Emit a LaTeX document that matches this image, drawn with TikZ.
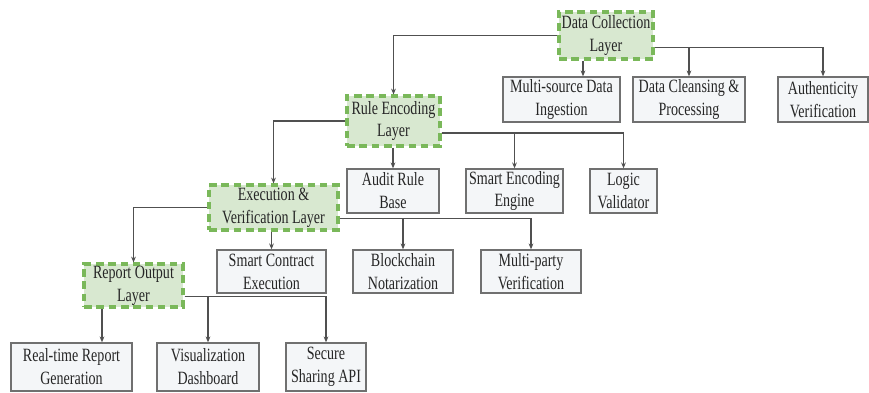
\documentclass[tikz,border=0pt]{standalone}
\usepackage{fontspec}
\setmainfont[FakeStretch=0.75]{Liberation Serif}
\usetikzlibrary{arrows.meta}
\definecolor{layerfill}{HTML}{D8E8D0}
\definecolor{layerline}{HTML}{7AB85A}
\definecolor{itemfill}{HTML}{F4F6F8}
\definecolor{itemline}{HTML}{707070}
\definecolor{connline}{HTML}{505050}
\definecolor{textcol}{HTML}{262626}

\begin{document}
\begin{tikzpicture}[x=0.03cm, y=-0.03cm,
    layer/.style={draw=layerline, fill=layerfill, line width=2.6pt,
        dash pattern=on 6.5pt off 4pt, inner sep=0pt, align=center,
        text=textcol, font=\fontsize{16}{19.5}\selectfont},
    item/.style={draw=itemline, fill=itemfill, line width=1.1pt,
        inner sep=0pt, align=center, text=textcol,
        font=\fontsize{16}{19.5}\selectfont},
    conn/.style={draw=connline, line width=1pt,
        -{Stealth[length=5pt, width=4pt]}}]
    \useasboundingbox (0,0) rectangle (869,392);
    \clip (0,0) rectangle (869,392);

    % Data collection layer
    \node[layer, minimum width=2.82cm, minimum height=1.41cm]
        (dc) at (606, 35.5) {Data Collection\\Layer};
    \node[item, minimum width=3.51cm, minimum height=1.35cm]
        (ms) at (561.5, 99.5) {Multi-source Data\\Ingestion};
    \node[item, minimum width=3.36cm, minimum height=1.35cm]
        (dcl) at (689, 99.5) {Data Cleansing \&\\Processing};
    \node[item, minimum width=2.70cm, minimum height=1.35cm]
        (av) at (823, 99.5) {Authenticity\\Verification};

    % Rule encoding layer
    \node[layer, minimum width=2.79cm, minimum height=1.50cm]
        (re) at (393.5, 121) {Rule Encoding\\Layer};
    \node[item, minimum width=2.76cm, minimum height=1.32cm]
        (ar) at (393, 191) {Audit Rule\\Base};
    \node[item, minimum width=2.91cm, minimum height=1.32cm]
        (se) at (514.5, 191) {Smart Encoding\\Engine};
    \node[item, minimum width=2.01cm, minimum height=1.32cm]
        (lv) at (623.5, 191) {Logic\\Validator};

    % Execution and verification layer
    \node[layer, minimum width=3.87cm, minimum height=1.35cm]
        (ev) at (273.5, 207.5) {Execution \&\\Verification Layer};
    \node[item, minimum width=3.27cm, minimum height=1.29cm]
        (sc) at (271.5, 271.5) {Smart Contract\\Execution};
    \node[item, minimum width=3.00cm, minimum height=1.29cm]
        (bn) at (403, 271.5) {Blockchain\\Notarization};
    \node[item, minimum width=3.00cm, minimum height=1.29cm]
        (mv) at (531, 271.5) {Multi-party\\Verification};

    % Report output layer
    \node[layer, minimum width=2.97cm, minimum height=1.29cm]
        (ro) at (133.5, 285.5) {Report Output\\Layer};
    \node[item, minimum width=3.63cm, minimum height=1.44cm]
        (rt) at (71.5, 367) {Real-time Report\\Generation};
    \node[item, minimum width=3.06cm, minimum height=1.44cm]
        (vd) at (208, 367) {Visualization\\Dashboard};
    \node[item, minimum width=2.40cm, minimum height=1.44cm]
        (ss) at (326, 367) {Secure\\Sharing API};

    % Drop points of the straight arrows
    \coordinate (dcdrop) at (583, 0);
    \coordinate (rodrop) at (102, 0);

    % Layer to layer
    \draw[conn] (dc.west) -| (re.north);
    \draw[conn] (re.west) -| (ev.north);
    \draw[conn] (ev.west) -| (ro.north);

    % Layer to its parts
    \draw[conn] (dc.south -| dcdrop) -- (ms.north -| dcdrop);
    \draw[conn] ([yshift=-3.6mm]dc.east) -| (dcl.north);
    \draw[conn] ([yshift=-3.6mm]dc.east) -| (av.north);
    \draw[conn] (re.south -| ar.north) -- (ar.north);
    \draw[conn] ([yshift=-3.6mm]re.east) -| (se.north);
    \draw[conn] ([yshift=-3.6mm]re.east) -| (lv.north);
    \draw[conn] (ev.south -| sc.north) -- (sc.north);
    \draw[conn] ([yshift=-3.2mm]ev.east) -| (bn.north);
    \draw[conn] ([yshift=-3.2mm]ev.east) -| (mv.north);
    \draw[conn] (ro.south -| rodrop) -- (rt.north -| rodrop);
    \draw[conn] ([yshift=-3.2mm]ro.east) -| (vd.north);
    \draw[conn] ([yshift=-3.2mm]ro.east) -| (ss.north);
\end{tikzpicture}
\end{document}
